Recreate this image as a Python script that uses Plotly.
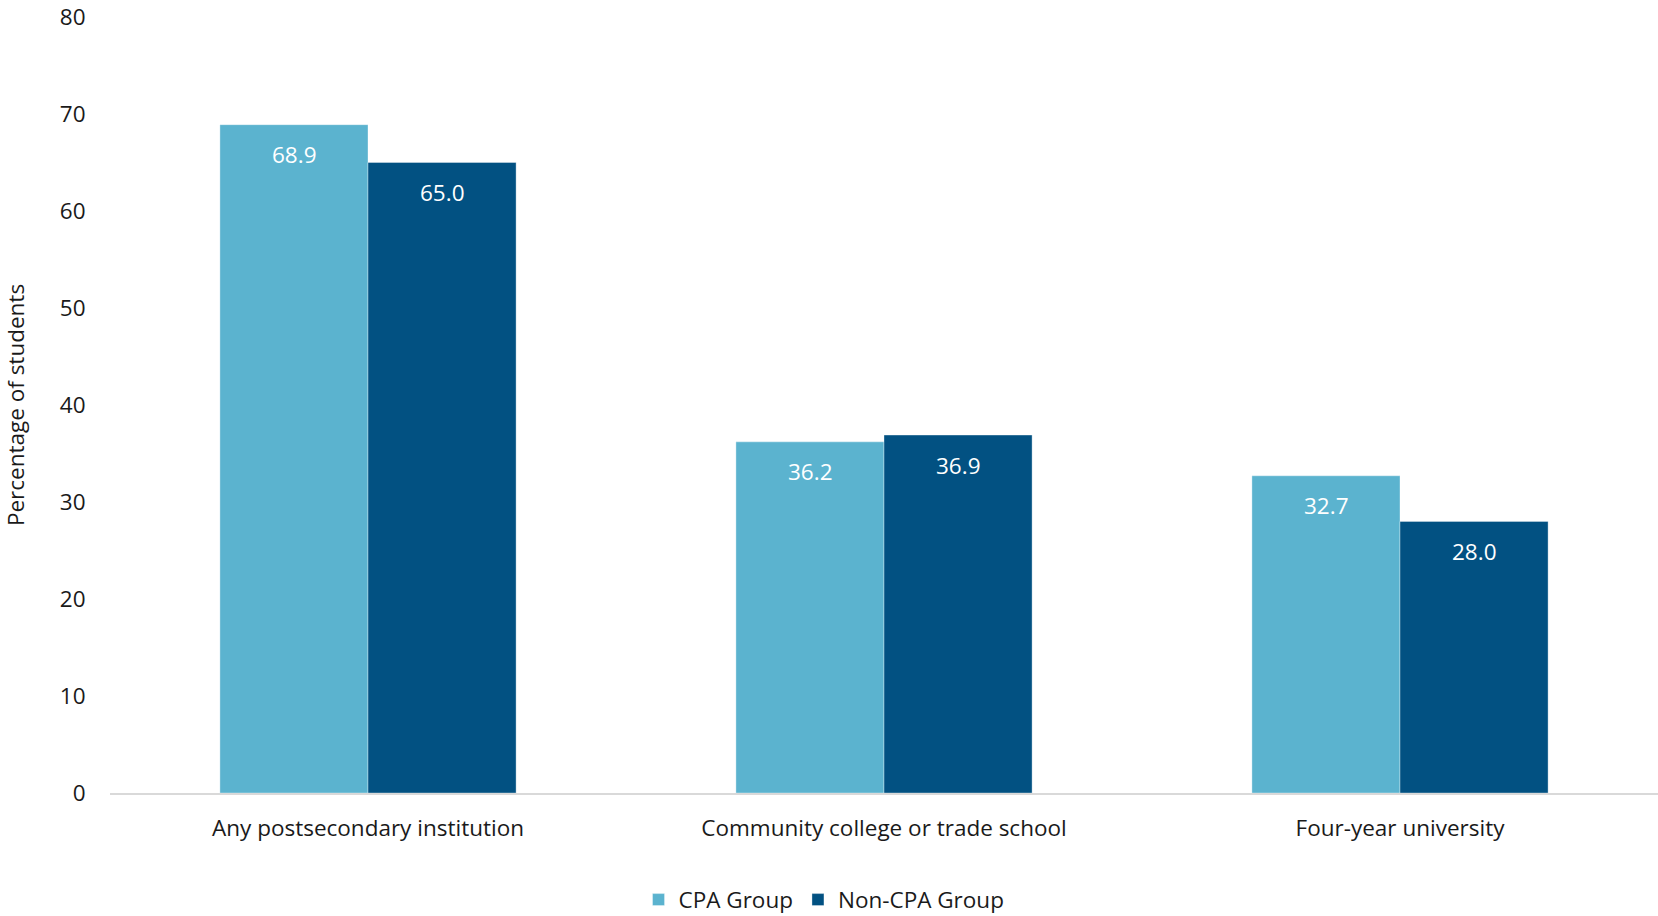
import plotly.graph_objects as go

categories = ["Any postsecondary institution", "Community college or trade school", "Four-year university"]
cpa_values = [68.9, 36.2, 32.7]
noncpa_values = [65.0, 36.9, 28.0]
series_names = ["CPA Group", "Non-CPA Group"]
y_ticks = [0, 10, 20, 30, 40, 50, 60, 70, 80]

colors = ["#5BB3CF", "#025182"]
FONT = "Open Sans"
FS = 22.5

fig = go.Figure()
series = [cpa_values, noncpa_values]
for name, vals, col in zip(series_names, series, colors):
    fig.add_trace(go.Bar(
        name=name, x=categories, y=vals,
        marker=dict(color=col, line=dict(color="rgba(255,255,255,0.35)", width=1)),
        hoverinfo="skip",
    ))

# data labels near the top of each bar
bar_px = 148
for i, vals in enumerate(series):
    for cat, v in zip(categories, vals):
        fig.add_annotation(x=cat, y=v, text=f"{v:.1f}", showarrow=False,
                           xshift=(i - 0.5) * bar_px, yshift=-30, yanchor="middle",
                           font=dict(color="white", size=FS, family=FONT))

fig.update_layout(
    barmode="group", bargap=0.426, bargroupgap=0,
    width=1658, height=916,
    margin=dict(l=110, r=0, t=17, b=123),
    plot_bgcolor="white", paper_bgcolor="white",
    font=dict(family=FONT, size=FS, color="#1a1a1a"),
    showlegend=True,
    legend=dict(orientation="h", xref="container", x=0.497, xanchor="center",
                yref="container", y=0.0175, yanchor="middle",
                font=dict(size=FS), traceorder="normal", itemwidth=30),
)
fig.update_xaxes(showline=True, linecolor="#D9D9D9", linewidth=2, showgrid=False,
                 ticks="outside", ticklen=14, tickcolor="rgba(0,0,0,0)",
                 tickfont=dict(size=FS, family=FONT))
fig.update_yaxes(range=[0, 80], tickvals=y_ticks, showgrid=False, showline=False,
                 zeroline=False, ticks="outside", ticklen=19, tickcolor="rgba(0,0,0,0)",
                 tickfont=dict(size=FS, family=FONT),
                 title=dict(text="Percentage of students", font=dict(size=FS, family=FONT), standoff=29))

fig.write_html("out.html")
